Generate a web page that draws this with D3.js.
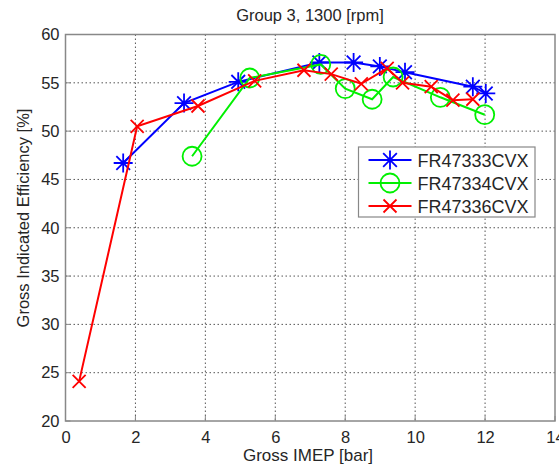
<!DOCTYPE html>
<html>
<head>
<meta charset="utf-8">
<script src="https://cdn.jsdelivr.net/npm/d3@7"></script>
<style>
  body { margin: 0; background: #fff; }
  svg text { font-family: "Liberation Sans", Arial, sans-serif; fill: #262626; }
</style>
</head>
<body>
<svg class="chart" width="559" height="468"></svg>
<script>
// values
const imep333 = [1.65, 3.39, 4.94, 7.26, 8.24, 8.99, 9.71, 11.65, 12.02];
const eff333 = [46.7, 52.9, 55.1, 57.1, 57.1, 56.7, 56.1, 54.6, 53.9];

const imep334 = [3.62, 5.27, 7.3, 8.0, 8.77, 9.37, 10.72, 11.99];
const eff334 = [47.4, 55.5, 56.9, 54.4, 53.3, 55.6, 53.5, 51.7];

const imep336 = [0.39, 2.05, 3.79, 5.41, 6.82, 7.6, 8.46, 9.2, 9.64, 10.46, 11.08, 11.65];
const eff336 = [24.1, 50.5, 52.6, 55.2, 56.3, 55.9, 54.9, 56.5, 55.0, 54.6, 53.2, 53.3];

const seriesNames = ["FR47333CVX", "FR47334CVX", "FR47336CVX"];
const seriesColors = ["#0000ff", "#00f000", "#ff0000"];
const seriesMarkers = ["star", "circle", "cross"];

const xTicks = [0, 2, 4, 6, 8, 10, 12, 14];
const yTicks = [20, 25, 30, 35, 40, 45, 50, 55, 60];

const series = [
  { x: imep333, y: eff333 },
  { x: imep334, y: eff334 },
  { x: imep336, y: eff336 }
].map((s, i) => ({
  name: seriesNames[i],
  color: seriesColors[i],
  marker: seriesMarkers[i],
  points: s.x.map((v, j) => [v, s.y[j]])
}));

const svg = d3.select("svg.chart");

const plotLeft = 65.5, plotRight = 555, plotTop = 34.5, plotBottom = 421;

const x = d3.scaleLinear().domain([0, 14]).range([plotLeft, plotRight]);
const y = d3.scaleLinear().domain([20, 60]).range([plotBottom, plotTop]);

// grid
svg.append("g")
  .selectAll("line")
  .data(xTicks.slice(1, -1))
  .enter()
  .append("line")
  .attr("x1", d => x(d))
  .attr("x2", d => x(d))
  .attr("y1", plotTop)
  .attr("y2", plotBottom)
  .attr("stroke", "#555")
  .attr("stroke-width", 1)
  .attr("stroke-dasharray", "1.5,2.5");

svg.append("g")
  .selectAll("line")
  .data(yTicks.slice(1, -1))
  .enter()
  .append("line")
  .attr("x1", plotLeft)
  .attr("x2", plotRight)
  .attr("y1", d => y(d))
  .attr("y2", d => y(d))
  .attr("stroke", "#555")
  .attr("stroke-width", 1)
  .attr("stroke-dasharray", "1.5,2.5");

// axes
const xAxis = d3.axisBottom(x).tickValues(xTicks).tickSize(0).tickPadding(10);
const yAxis = d3.axisLeft(y).tickValues(yTicks).tickSize(0).tickPadding(6);

const gx = svg.append("g")
  .attr("transform", "translate(0," + plotBottom + ")")
  .call(xAxis);
const gy = svg.append("g")
  .attr("transform", "translate(" + plotLeft + ",0)")
  .call(yAxis);

[gx, gy].forEach(g => {
  g.select(".domain").remove();
  g.selectAll("text")
    .style("font-size", "16.5px")
    .style("font-family", "'Liberation Sans', Arial, sans-serif")
    .attr("fill", "#262626");
});

// inner tick marks
svg.append("g")
  .selectAll("line")
  .data(xTicks)
  .enter()
  .append("line")
  .attr("x1", d => x(d))
  .attr("x2", d => x(d))
  .attr("y1", plotBottom)
  .attr("y2", plotBottom - 5)
  .attr("stroke", "#888");

svg.append("g")
  .selectAll("line")
  .data(yTicks)
  .enter()
  .append("line")
  .attr("x1", plotLeft)
  .attr("x2", plotLeft + 5)
  .attr("y1", d => y(d))
  .attr("y2", d => y(d))
  .attr("stroke", "#888");

svg.append("rect")
  .attr("x", plotLeft)
  .attr("y", plotTop)
  .attr("width", plotRight - plotLeft)
  .attr("height", plotBottom - plotTop)
  .attr("fill", "none")
  .attr("stroke", "#888")
  .attr("stroke-width", 1.5);

// marker shapes
function markerPath(type) {
  if (type === "star") {
    const r = 9.5, d = r * 0.72;
    return "M" + -r + ",0L" + r + ",0M0," + -r + "L0," + r +
      "M" + -d + "," + -d + "L" + d + "," + d +
      "M" + -d + "," + d + "L" + d + "," + -d;
  }
  if (type === "cross") {
    const r = 6.5;
    return "M" + -r + "," + -r + "L" + r + "," + r + "M" + -r + "," + r + "L" + r + "," + -r;
  }
  const r = 9.5;
  return "M" + r + ",0A" + r + "," + r + " 0 1,1 " + -r + ",0A" + r + "," + r + " 0 1,1 " + r + ",0Z";
}

const line = d3.line().x(d => x(d[0])).y(d => y(d[1]));

const plot = svg.append("g");

series.forEach(s => {
  plot.append("path")
    .datum(s.points)
    .attr("d", line)
    .attr("fill", "none")
    .attr("stroke", s.color)
    .attr("stroke-width", 2);

  plot.append("g")
    .selectAll("path")
    .data(s.points)
    .enter()
    .append("path")
    .attr("transform", d => "translate(" + x(d[0]) + "," + y(d[1]) + ")")
    .attr("d", markerPath(s.marker))
    .attr("fill", "none")
    .attr("stroke", s.color)
    .attr("stroke-width", 1.8);
});

// legend
const legend = svg.append("g").attr("transform", "translate(358.5,147)");

legend.append("rect")
  .attr("width", 176.5)
  .attr("height", 70)
  .attr("fill", "#fff")
  .attr("stroke", "#888")
  .attr("stroke-width", 1.2);

const legendRows = legend
  .selectAll("g")
  .data(series)
  .enter()
  .append("g")
  .attr("transform", (d, i) => "translate(0," + (13 + i * 23) + ")");

legendRows
  .append("line")
  .attr("x1", 10)
  .attr("x2", 53)
  .attr("stroke", d => d.color)
  .attr("stroke-width", 2);

legendRows
  .append("path")
  .attr("transform", "translate(31.5,0)")
  .attr("d", d => markerPath(d.marker))
  .attr("fill", "none")
  .attr("stroke", d => d.color)
  .attr("stroke-width", 1.8);

legendRows
  .append("text")
  .attr("x", 59)
  .attr("y", 6.5)
  .style("font-size", "18px")
  .text(d => d.name);

// titles
svg.append("text")
  .attr("x", 310)
  .attr("y", 21)
  .attr("text-anchor", "middle")
  .style("font-size", "16.5px")
  .text("Group 3, 1300 [rpm]");

svg.append("text")
  .attr("x", 308)
  .attr("y", 461)
  .attr("text-anchor", "middle")
  .style("font-size", "17px")
  .text("Gross IMEP [bar]");

svg.append("text")
  .attr("transform", "translate(29,218) rotate(-90)")
  .attr("text-anchor", "middle")
  .style("font-size", "16.5px")
  .text("Gross Indicated Efficiency [%]");
</script>
</body>
</html>
